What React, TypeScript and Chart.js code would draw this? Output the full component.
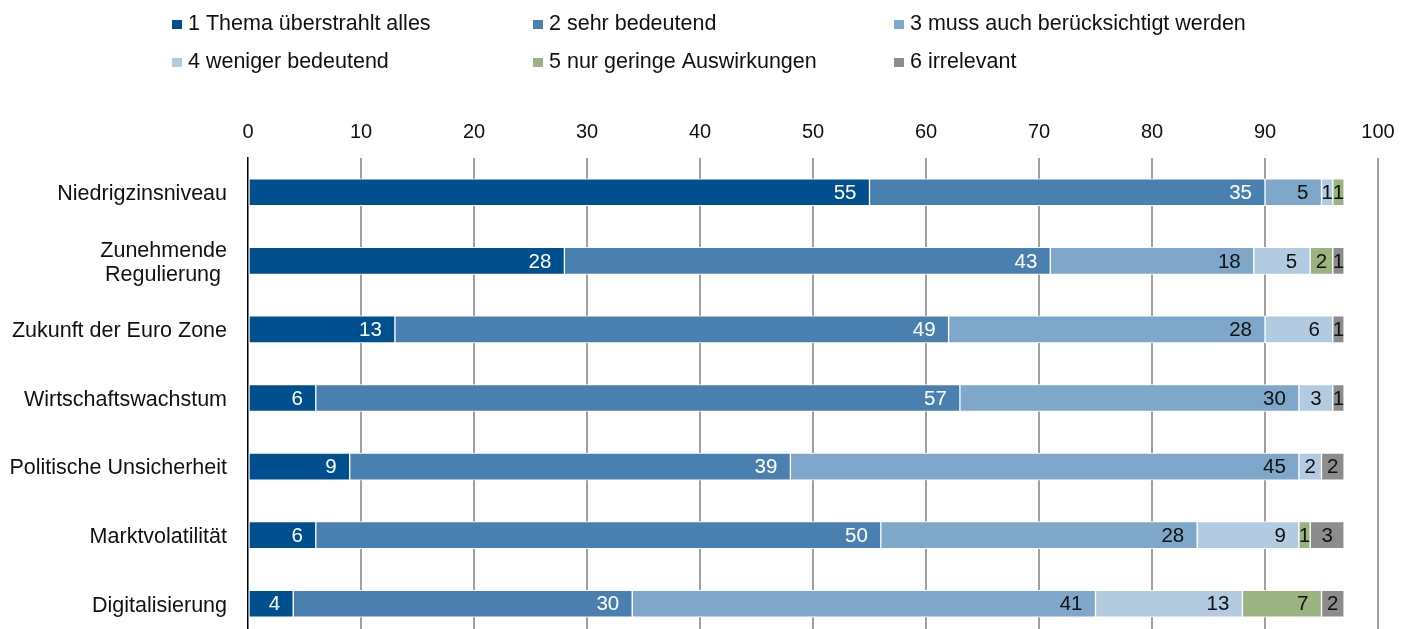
import React, { useEffect, useRef } from "react";
import { Chart, registerables } from "chart.js";

Chart.register(...registerables);

const categories: (string | string[])[] = [
  "Niedrigzinsniveau",
  ["Zunehmende", "Regulierung "],
  "Zukunft der Euro Zone",
  "Wirtschaftswachstum",
  "Politische Unsicherheit",
  "Marktvolatilität",
  "Digitalisierung",
];

const seriesNames = [
  "1 Thema überstrahlt alles",
  "2 sehr bedeutend",
  "3 muss auch berücksichtigt werden",
  "4 weniger bedeutend",
  "5 nur geringe Auswirkungen",
  "6 irrelevant",
];

const s1 = [55, 28, 13, 6, 9, 6, 4];
const s2 = [35, 43, 49, 57, 39, 50, 30];
const s3 = [5, 18, 28, 30, 45, 28, 41];
const s4 = [1, 5, 6, 3, 2, 9, 13];
const s5 = [1, 2, 0, 0, 0, 1, 7];
const s6 = [0, 1, 1, 1, 2, 3, 2];

const seriesValues = [s1, s2, s3, s4, s5, s6];
const seriesColors = ["#004f8f", "#4a80b0", "#7ea7c9", "#b3cbe0", "#9bb380", "#8c8c8c"];
const labelColors = ["#ffffff", "#ffffff", "#111111", "#111111", "#111111", "#111111"];

const xTicks = { min: 0, max: 100, step: 10 };

const FONT = "'Liberation Sans', Arial, sans-serif";
const CANVAS_W = 1401;
const CANVAS_H = 638;

const valueLabelPlugin = {
  id: "valueLabels",
  afterDatasetsDraw(chart: any) {
    const ctx = chart.ctx;
    ctx.save();
    ctx.font = `20.5px ${FONT}`;
    ctx.textAlign = "right";
    ctx.textBaseline = "middle";
    chart.data.datasets.forEach((ds: any, di: number) => {
      const meta = chart.getDatasetMeta(di);
      meta.data.forEach((el: any, i: number) => {
        const v = ds.data[i];
        if (!v) return;
        const { x, y, base } = el.getProps(["x", "y", "base"], true);
        const w = x - base;
        const text = String(v);
        const tw = ctx.measureText(text).width;
        const pad = Math.min(13, Math.max((w - tw) / 2, 0));
        ctx.fillStyle = labelColors[di];
        ctx.fillText(text, x - pad, y + 1);
      });
    });
    ctx.restore();
  },
};

const gridLegendPlugin = {
  id: "gridLegend",
  afterDraw(chart: any) {
    const ctx = chart.ctx;
    ctx.save();
    ctx.font = `21.5px ${FONT}`;
    ctx.textAlign = "left";
    ctx.textBaseline = "middle";
    chart.data.datasets.forEach((ds: any, i: number) => {
      const col = i % 3;
      const row = Math.floor(i / 3);
      const mx = 172 + col * 361;
      const my = 24.5 + row * 38;
      ctx.fillStyle = ds.backgroundColor;
      ctx.fillRect(mx, my - 4.5, 10, 9);
      ctx.fillStyle = "#111111";
      ctx.fillText(ds.label, mx + 16, my);
    });
    ctx.restore();
  },
};

export default function App() {
  const ref = useRef<HTMLCanvasElement | null>(null);

  useEffect(() => {
    if (!ref.current) return;
    const chart = new Chart(ref.current, {
      type: "bar",
      data: {
        labels: categories as any,
        datasets: seriesValues.map((vals, i) => ({
          label: seriesNames[i],
          data: vals,
          backgroundColor: seriesColors[i],
          borderColor: "#ffffff",
          borderWidth: 1,
          borderSkipped: false,
          barThickness: 27,
        })),
      },
      options: {
        indexAxis: "y",
        responsive: false,
        animation: false,
        devicePixelRatio: 1,
        layout: { padding: { left: 0, right: 23, top: 0, bottom: 0 } },
        plugins: {
          legend: { display: false },
          tooltip: { enabled: false },
        },
        scales: {
          x: {
            type: "linear",
            position: "top",
            stacked: true,
            min: xTicks.min,
            max: xTicks.max,
            ticks: {
              stepSize: xTicks.step,
              padding: 14,
              color: "#111111",
              font: { family: FONT, size: 20 },
            },
            grid: {
              color: (c: any) => (c.tick && c.tick.value === 0 ? "rgba(0,0,0,0)" : "#a0a0a0"),
              lineWidth: 2,
              drawTicks: false,
            },
            border: { display: false },
            afterFit: (s: any) => {
              s.height = 158;
              s.paddingLeft = 0;
              s.paddingRight = 0;
            },
          },
          y: {
            stacked: true,
            grid: { display: false, drawTicks: false },
            border: { display: true, color: "#000000", width: 1.5 },
            ticks: {
              padding: 21,
              labelOffset: 2,
              color: "#111111",
              font: { family: FONT, size: 21.5, lineHeight: 1.12 },
            },
            afterFit: (s: any) => {
              s.width = 248;
              s.paddingTop = 0;
              s.paddingBottom = 0;
            },
          },
        },
      },
      plugins: [valueLabelPlugin, gridLegendPlugin],
    });
    return () => chart.destroy();
  }, []);

  return (
    <div style={{ position: "fixed", left: 0, top: 0, width: CANVAS_W, height: CANVAS_H, background: "#fff" }}>
      <canvas
        ref={ref}
        width={CANVAS_W}
        height={CANVAS_H}
        style={{ display: "block", width: CANVAS_W, height: CANVAS_H }}
      />
    </div>
  );
}
